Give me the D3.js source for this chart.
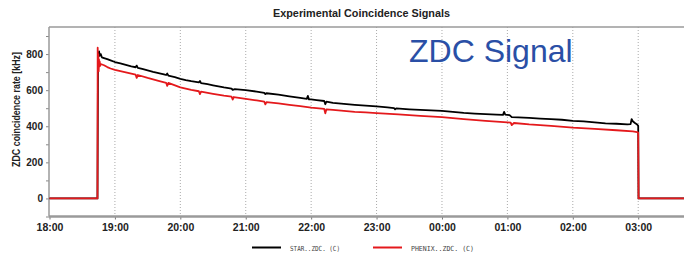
<!DOCTYPE html>
<html><head><meta charset="utf-8">
<script src="https://cdn.jsdelivr.net/npm/d3@7/dist/d3.min.js"></script>
<style>html,body{margin:0;padding:0;background:#fff;}svg{display:block;}</style>
</head><body>
<svg id="c" width="684" height="260"></svg>
<script>
// ---- data (minutes after 18:00) ----
const starTimes  = [0,44,44.5,45.5,46,47,48,50,53,56,60,65,70,75,79,80,81,85,90,95,100,105,107,108,109,115,120,125,130,137,138,139,145,150,155,160,167,168,170,180,190,197,198,199,210,220,230,236,237,238,240,245,252,253,254,260,270,280,290,300,310,316,317,318,330,340,350,360,370,380,390,400,410,416,417,418,422,424,430,440,450,460,470,480,490,500,510,520,530,533,534,535,537,539,540,540.3,582];
const starValues = [0,0,780,815,790,800,782,778,772,765,756,748,740,732,727,736,724,718,710,702,695,688,684,692,681,672,663,656,650,643,651,639,633,627,621,615,609,602,606,600,592,585,578,583,575,566,557,552,568,549,549,545,540,522,536,530,524,519,514,510,505,501,494,499,494,491,488,485,480,474,470,467,464,463,480,465,462,451,449,446,442,439,436,430,427,421,416,414,410,412,440,428,418,410,402,0,0];
const phenixTimes  = [0,44,44.2,44.5,44.8,45.1,45.4,45.7,46,46.5,47,50,53,56,60,70,79,80,81,90,100,107,108,109,120,130,137,138,139,150,160,167,168,169,180,190,197,198,199,210,220,230,240,252,253,254,260,270,280,290,300,320,340,360,380,400,420,423,424,426,440,460,480,500,520,535,539,540,540.3,582];
const phenixValues = [0,0,835,720,800,705,770,730,760,735,745,738,728,720,712,698,686,668,684,668,652,641,624,640,615,602,594,578,592,580,570,564,548,562,552,543,536,521,534,527,519,511,503,496,472,494,491,485,480,477,473,466,458,451,440,430,422,420,406,418,410,402,392,386,378,372,368,365,0,0];
const yTicks = [0,200,400,600,800];
const xTickHours = [18,19,20,21,22,23,0,1,2,3];
const seriesNames = ["STAR..ZDC. (C)","PHENIX..ZDC. (C)"];
const seriesColors = ["#000000","#e4191c"];
const title = "Experimental Coincidence Signals";
const yLabel = "ZDC coincidence rate [kHz]";
const overlay = "ZDC Signal";

const base = new Date(2020,0,1,18,0,0);
const toDate = m => new Date(base.getTime() + m*60000);
const svg = d3.select("#c");
const x = d3.scaleTime().domain([toDate(0), toDate(582)]).range([49.5, 684]);
const y = d3.scaleLinear().domain([-100, 950]).range([216.5, 27]);
const plotTop = 27, plotBottom = 216.5, plotLeft = 49;
const FONT = "Liberation Sans, Arial, sans-serif";

// grid
const tickDates = xTickHours.map(h => toDate(((h - 18 + 24) % 24) * 60));
svg.append("g").selectAll("line").data(tickDates.slice(1)).join("line")
  .attr("x1", d => x(d)).attr("x2", d => x(d)).attr("y1", plotTop).attr("y2", plotBottom)
  .attr("stroke", "#aaa").attr("stroke-width", 1).attr("stroke-dasharray", "1,2");

// frame: top line
svg.append("line").attr("x1", plotLeft).attr("x2", 684).attr("y1", plotTop).attr("y2", plotTop)
  .attr("stroke", "#9a9a9a").attr("stroke-width", 1.5);

// y axis
const yAxis = d3.axisLeft(y).tickValues(d3.range(-100, 951, 100)).tickSize(3).tickFormat(d => yTicks.includes(d) ? d : "");
const gy = svg.append("g").attr("transform", `translate(${plotLeft},0)`).call(yAxis);
gy.select(".domain").remove();
gy.selectAll(".tick line").attr("stroke", "#888");
gy.selectAll(".tick text").attr("font-family", FONT).attr("font-weight", "bold")
  .attr("font-size", 10).attr("fill", "#222").attr("x", -6);
svg.append("line").attr("x1", plotLeft).attr("x2", plotLeft).attr("y1", plotTop).attr("y2", plotBottom)
  .attr("stroke", "#9a9a9a").attr("stroke-width", 1.5);

// x axis
const xAxis = d3.axisBottom(x).tickValues(tickDates).tickSize(3).tickFormat(d3.timeFormat("%H:%M"));
const gx = svg.append("g").attr("transform", `translate(0,${plotBottom})`).call(xAxis);
gx.select(".domain").remove();
gx.selectAll(".tick line").attr("stroke", "#777");
gx.selectAll(".tick text").attr("font-family", FONT).attr("font-weight", "bold")
  .attr("font-size", 10.5).attr("fill", "#222").attr("dy", "1.0em").attr("y", 4);
svg.append("line").attr("x1", plotLeft).attr("x2", 684).attr("y1", plotBottom).attr("y2", plotBottom)
  .attr("stroke", "#9a9a9a").attr("stroke-width", 2.5);

// series
const line = d3.line().x(d => x(toDate(d[0]))).y(d => y(d[1]));
const starData = starTimes.map((t,i) => [t, starValues[i]]);
const phenixData = phenixTimes.map((t,i) => [t, phenixValues[i]]);
[starData, phenixData].forEach((data, i) => {
  svg.append("path").datum(data).attr("d", line).attr("fill", "none")
    .attr("stroke", seriesColors[i]).attr("stroke-width", 1.8).attr("stroke-linejoin", "round");
});

// title
svg.append("text").attr("x", 273).attr("y", 17)
  .attr("font-family", FONT).attr("font-weight", "bold").attr("font-size", 10.5)
  .attr("textLength", 177).attr("lengthAdjust", "spacingAndGlyphs")
  .attr("fill", "#222").text(title);

// y label
svg.append("text").attr("transform", "translate(19.5,167) rotate(-90)")
  .attr("font-family", FONT).attr("font-weight", "bold").attr("font-size", 10)
  .attr("textLength", 115).attr("lengthAdjust", "spacingAndGlyphs")
  .attr("fill", "#222").text(yLabel);

// overlay text
svg.append("text").attr("x", 409).attr("y", 62)
  .attr("font-family", FONT).attr("font-size", 32)
  .attr("fill", "#2a4fa6").text(overlay);

// legend
const legX = [252, 373];
const legTextLen = [50, 63];
seriesNames.forEach((n, i) => {
  svg.append("line").attr("x1", legX[i]).attr("x2", legX[i] + 29).attr("y1", 247.5).attr("y2", 247.5)
    .attr("stroke", seriesColors[i]).attr("stroke-width", 2);
  svg.append("text").attr("x", legX[i] + 38).attr("y", 250.5).attr("font-family", "DejaVu Sans Mono, monospace")
    .attr("font-size", 7).attr("textLength", legTextLen[i]).attr("lengthAdjust", "spacingAndGlyphs")
    .attr("fill", "#444").text(n);
});
</script>
</body></html>
